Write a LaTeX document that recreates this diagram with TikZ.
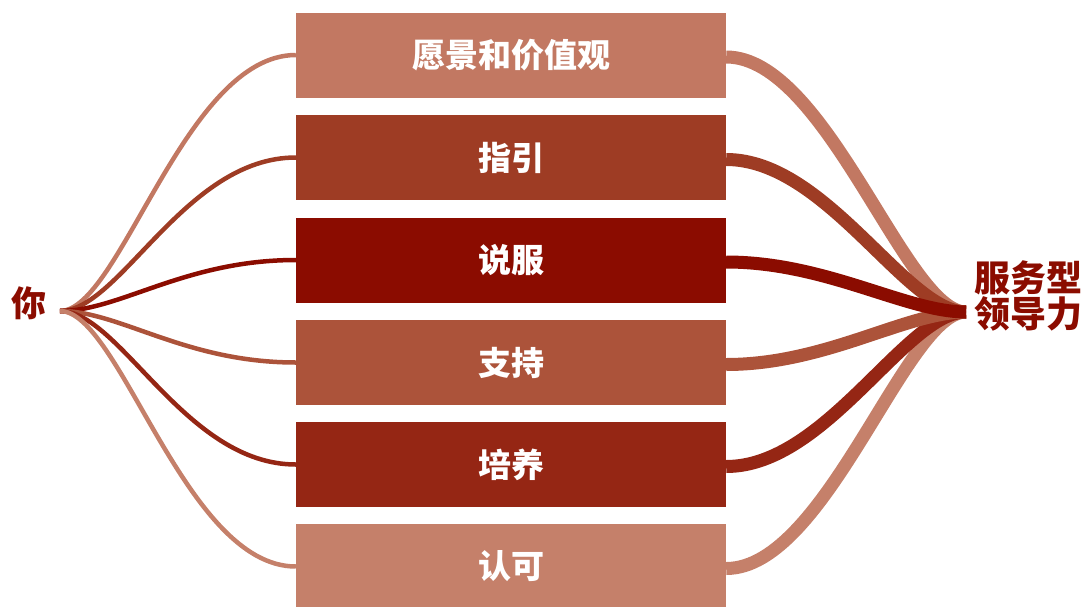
\documentclass[tikz,border=0pt]{standalone}
\usepackage{fontspec}
\newfontfamily\cjk{Noto Sans CJK SC}
\definecolor{vision}{HTML}{C27862}
\definecolor{guide}{HTML}{9E3C24}
\definecolor{persuade}{HTML}{8B0C00}
\definecolor{support}{HTML}{AC533A}
\definecolor{develop}{HTML}{952614}
\definecolor{praise}{HTML}{C5806A}
\tikzset{
  box/.style={minimum width=430pt,minimum height=85pt,inner sep=0pt,
    text=white,font=\cjk\bfseries\fontsize{33}{35}\selectfont},
  thinlink/.style={line width=4.5pt},
  thicklink/.style={line width=13pt}
}
\begin{document}
\begin{tikzpicture}[x=1pt,y=-1pt]
   \useasboundingbox (0,0) rectangle (1088,606);
   % Hubs
   \coordinate (you) at (60,311);
   \coordinate (lead) at (966,312);
   \node[text=persuade,font=\cjk\bfseries\fontsize{35}{37}\selectfont] (youlabel) at (29,303) {你};
   \node[text=persuade,font=\cjk\bfseries\fontsize{36}{36}\selectfont,align=center,inner sep=0pt]
     (leadlabel) at (1028,296) {服务型\\领导力};
   % Boxes
   \node[box,fill=vision]   (b1) at (511,55)  {愿景和价值观};
   \node[box,fill=guide]    (b2) at (511,157.5) {指引};
   \node[box,fill=persuade] (b3) at (511,260) {说服};
   \node[box,fill=support]  (b4) at (511,362.5) {支持};
   \node[box,fill=develop]  (b5) at (511,464.5) {培养};
   \node[box,fill=praise]   (b6) at (511,566.5) {认可};
   % Left links
   \foreach \b/\c in {b1/vision,b2/guide,b3/persuade,b4/support,b5/develop,b6/praise}
     \draw[thinlink,\c] (you) .. controls +(60,0) and +(-111,0) .. (\b.west);
   % Right links
   \foreach \b/\c in {b1/vision,b6/praise,b2/guide,b5/develop,b4/support,b3/persuade}
     \draw[thicklink,\c] ([yshift=-2pt]\b.east) .. controls +(100,0) and +(-60,0) .. (lead);
\end{tikzpicture}
\end{document}
